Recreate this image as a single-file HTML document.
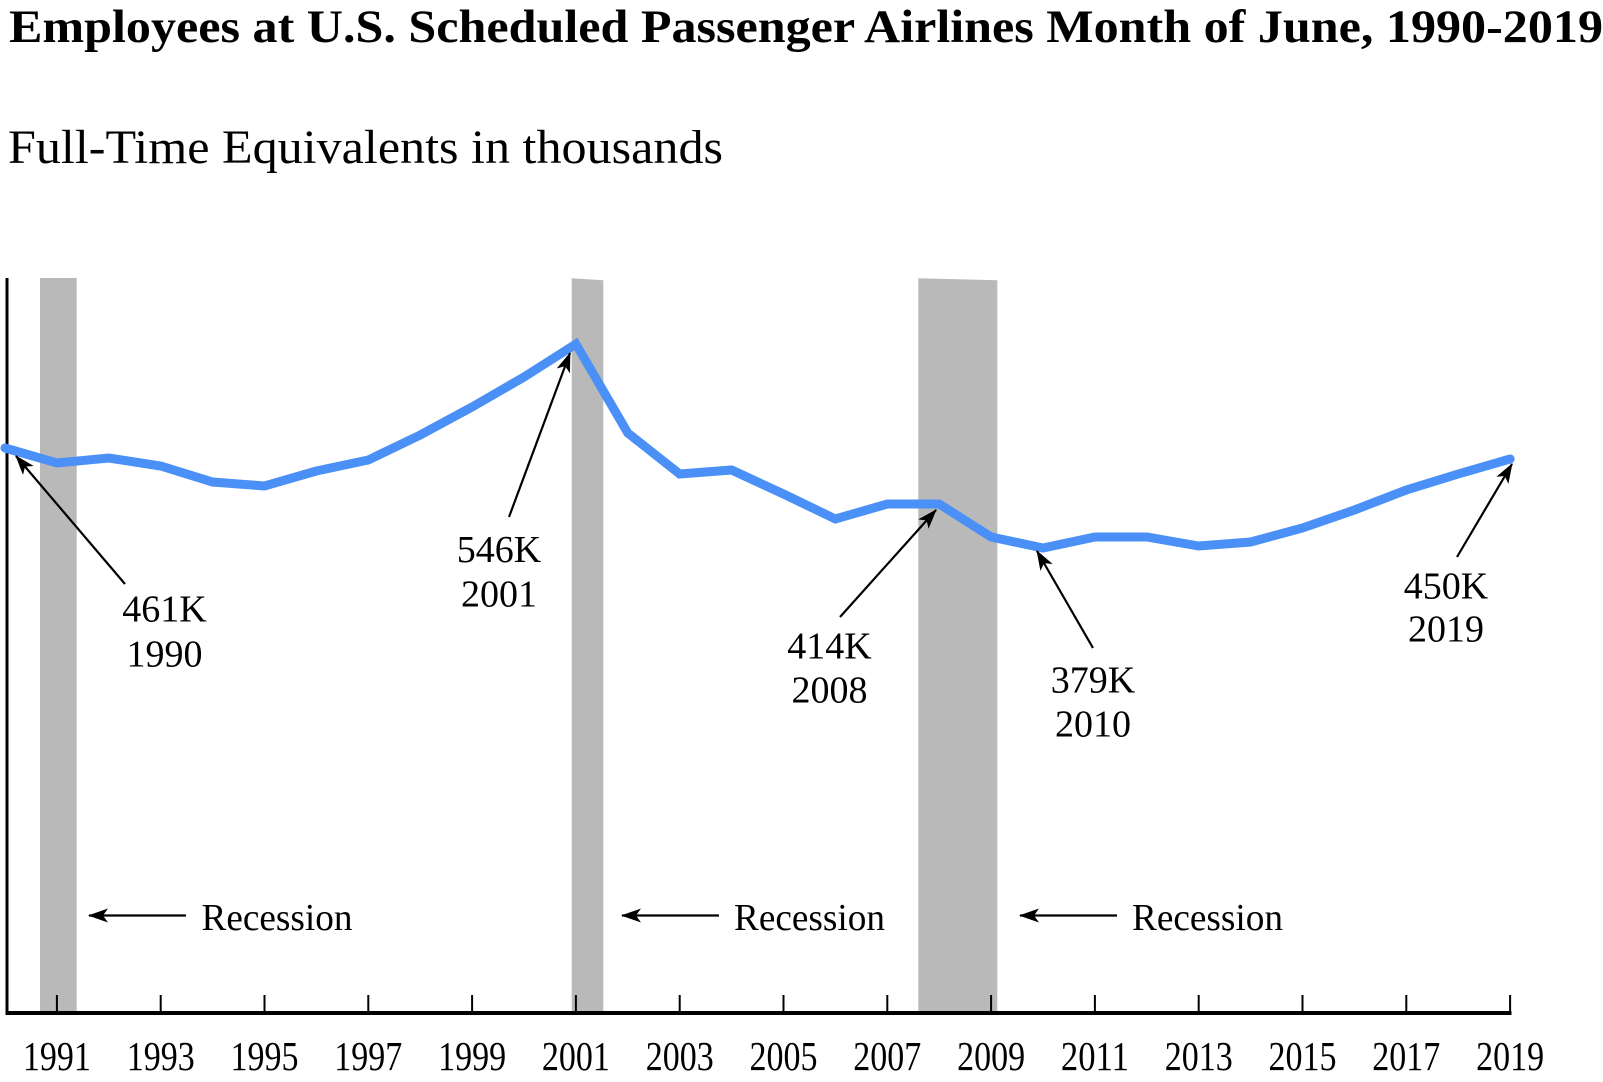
<!DOCTYPE html>
<html>
<head>
<meta charset="utf-8">
<style>
  html, body { margin: 0; padding: 0; background: #ffffff; }
  body { width: 1603px; height: 1082px; overflow: hidden; }
  svg { display: block; }
  text { font-family: "Liberation Serif", "Times New Roman", serif; fill: #000; }
</style>
</head>
<body>
<svg width="1603" height="1082" viewBox="0 0 1603 1082" xmlns="http://www.w3.org/2000/svg">
  <defs>
    <marker id="ah" viewBox="0 0 20 14" refX="19" refY="7" markerWidth="20" markerHeight="14" orient="auto" markerUnits="userSpaceOnUse">
      <path d="M0,0 L20,7 L0,14 L5,7 Z" fill="#000"/>
    </marker>
  </defs>

  <!-- Title & subtitle -->
  <text x="9" y="42" font-size="47" font-weight="bold" textLength="1594" lengthAdjust="spacingAndGlyphs">Employees at U.S. Scheduled Passenger Airlines Month of June, 1990-2019</text>
  <text x="8" y="163" font-size="48" textLength="715" lengthAdjust="spacingAndGlyphs">Full-Time Equivalents in thousands</text>

  <!-- Recession bands -->
  <rect x="40" y="278" width="36.7" height="734" fill="#b9b9b9"/>
  <polygon points="571.7,278.3 603.3,280.3 603.3,1012 571.7,1012" fill="#b9b9b9"/>
  <polygon points="918.3,278.3 997.3,280.3 997.3,1012 918.3,1012" fill="#b9b9b9"/>

  <!-- Axes -->
  <line x1="7" y1="278" x2="7" y2="1015" stroke="#000" stroke-width="3"/>
  <line x1="5.5" y1="1013" x2="1511.5" y2="1013" stroke="#000" stroke-width="4"/>
  <g stroke="#000" stroke-width="2">
    <line x1="56.9" y1="995" x2="56.9" y2="1012"/>
    <line x1="160.7" y1="995" x2="160.7" y2="1012"/>
    <line x1="264.5" y1="995" x2="264.5" y2="1012"/>
    <line x1="368.3" y1="995" x2="368.3" y2="1012"/>
    <line x1="472.1" y1="995" x2="472.1" y2="1012"/>
    <line x1="575.9" y1="995" x2="575.9" y2="1012"/>
    <line x1="679.7" y1="995" x2="679.7" y2="1012"/>
    <line x1="783.5" y1="995" x2="783.5" y2="1012"/>
    <line x1="887.3" y1="995" x2="887.3" y2="1012"/>
    <line x1="991.1" y1="995" x2="991.1" y2="1012"/>
    <line x1="1094.9" y1="995" x2="1094.9" y2="1012"/>
    <line x1="1198.7" y1="995" x2="1198.7" y2="1012"/>
    <line x1="1302.5" y1="995" x2="1302.5" y2="1012"/>
    <line x1="1406.3" y1="995" x2="1406.3" y2="1012"/>
    <line x1="1510.1" y1="995" x2="1510.1" y2="1012"/>
  </g>

  <!-- Tick labels -->
  <g font-size="41" text-anchor="middle">
    <text x="56.9" y="1070" textLength="68" lengthAdjust="spacingAndGlyphs">1991</text>
    <text x="160.7" y="1070" textLength="68" lengthAdjust="spacingAndGlyphs">1993</text>
    <text x="264.5" y="1070" textLength="68" lengthAdjust="spacingAndGlyphs">1995</text>
    <text x="368.3" y="1070" textLength="68" lengthAdjust="spacingAndGlyphs">1997</text>
    <text x="472.1" y="1070" textLength="68" lengthAdjust="spacingAndGlyphs">1999</text>
    <text x="575.9" y="1070" textLength="68" lengthAdjust="spacingAndGlyphs">2001</text>
    <text x="679.7" y="1070" textLength="68" lengthAdjust="spacingAndGlyphs">2003</text>
    <text x="783.5" y="1070" textLength="68" lengthAdjust="spacingAndGlyphs">2005</text>
    <text x="887.3" y="1070" textLength="68" lengthAdjust="spacingAndGlyphs">2007</text>
    <text x="991.1" y="1070" textLength="68" lengthAdjust="spacingAndGlyphs">2009</text>
    <text x="1094.9" y="1070" textLength="68" lengthAdjust="spacingAndGlyphs">2011</text>
    <text x="1198.7" y="1070" textLength="68" lengthAdjust="spacingAndGlyphs">2013</text>
    <text x="1302.5" y="1070" textLength="68" lengthAdjust="spacingAndGlyphs">2015</text>
    <text x="1406.3" y="1070" textLength="68" lengthAdjust="spacingAndGlyphs">2017</text>
    <text x="1510.1" y="1070" textLength="68" lengthAdjust="spacingAndGlyphs">2019</text>
  </g>

  <!-- Data line -->
  <polyline fill="none" stroke="#4a90f6" stroke-width="9" stroke-linecap="round" stroke-linejoin="miter"
    points="5,448 56.9,463 108.8,458 160.7,466 212.6,482 264.5,486 316.4,471 368.3,460 420.2,435 472.1,407 524,377 575.9,344 627.8,433 679.7,474 731.6,470 783.5,494 835.4,519 887.3,504 939.2,504 991.1,537 1043,548 1094.9,537 1146.8,537 1198.7,546 1250.6,542 1302.5,528 1354.4,510 1406.3,490 1458.2,474 1510.1,459"/>

  <!-- Annotation arrows -->
  <g stroke="#000" stroke-width="2.2" fill="none">
    <line x1="125" y1="584" x2="16" y2="456" marker-end="url(#ah)"/>
    <line x1="509" y1="517" x2="570" y2="353" marker-end="url(#ah)"/>
    <line x1="840" y1="617" x2="936" y2="510" marker-end="url(#ah)"/>
    <line x1="1093" y1="648" x2="1037" y2="551" marker-end="url(#ah)"/>
    <line x1="1457" y1="557" x2="1512" y2="464" marker-end="url(#ah)"/>
    <line x1="186" y1="915.5" x2="89" y2="915.5" marker-end="url(#ah)"/>
    <line x1="719" y1="915.5" x2="622" y2="915.5" marker-end="url(#ah)"/>
    <line x1="1117" y1="915.5" x2="1020" y2="915.5" marker-end="url(#ah)"/>
  </g>

  <!-- Annotation labels -->
  <g font-size="38" text-anchor="middle">
    <text x="164.5" y="621.5">461K</text>
    <text x="164.5" y="666.5">1990</text>
    <text x="499" y="562">546K</text>
    <text x="499" y="606.5">2001</text>
    <text x="829.5" y="658.5">414K</text>
    <text x="829.5" y="702.5">2008</text>
    <text x="1093" y="692.5">379K</text>
    <text x="1093" y="736.5">2010</text>
    <text x="1446" y="598.5">450K</text>
    <text x="1446" y="641.5">2019</text>
  </g>

  <!-- Recession labels -->
  <g font-size="38">
    <text x="201.5" y="930" textLength="151" lengthAdjust="spacingAndGlyphs">Recession</text>
    <text x="734" y="930" textLength="151" lengthAdjust="spacingAndGlyphs">Recession</text>
    <text x="1132" y="930" textLength="151" lengthAdjust="spacingAndGlyphs">Recession</text>
  </g>
</svg>
</body>
</html>
